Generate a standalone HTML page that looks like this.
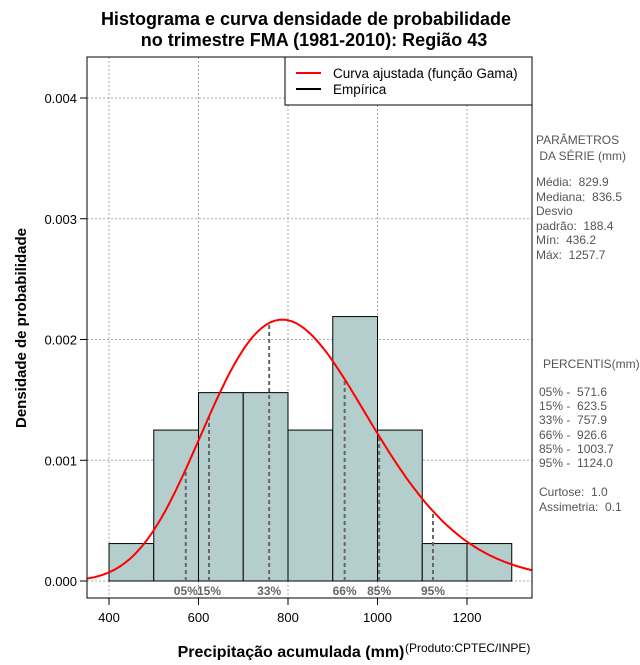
<!DOCTYPE html>
<html><head><meta charset="utf-8"><style>
body{margin:0;background:#fff;width:640px;height:660px;overflow:hidden}
svg{font-family:"Liberation Sans",sans-serif}
.pre text{white-space:pre}
</style></head><body>
<svg id="chart" width="640" height="660" xmlns="http://www.w3.org/2000/svg">
<text x="306" y="25" text-anchor="middle" font-size="18" font-weight="bold">Histograma e curva densidade de probabilidade</text>
<text x="314" y="46" text-anchor="middle" font-size="18" font-weight="bold">no trimestre FMA (1981-2010): Região 43</text>
<g id="grid"></g>
<g id="bars"></g>
<g id="pct"></g>
<g id="curve"></g>
<rect x="87" y="57" width="445" height="541" fill="none" stroke="#000"/>
<g id="axes" font-size="13"></g>
<text x="291" y="657" text-anchor="middle" font-size="16" font-weight="bold">Precipitação acumulada (mm)</text>
<text x="405" y="652" font-size="12">(Produto:CPTEC/INPE)</text>
<text transform="translate(26,328) rotate(-90)" text-anchor="middle" font-size="15" font-weight="bold">Densidade de probabilidade</text>
<g>
<rect x="285" y="57" width="247" height="48" fill="#fff" stroke="#000"/>
<line x1="296" y1="73" x2="321" y2="73" stroke="#f00" stroke-width="2"/>
<text x="333" y="78" font-size="13.5">Curva ajustada (função Gama)</text>
<line x1="296" y1="89" x2="321" y2="89" stroke="#000" stroke-width="2"/>
<text x="333" y="94" font-size="13.5">Empírica</text>
</g>
<g class="pre" font-size="12" fill="#555">
<text x="536" y="144">PARÂMETROS</text><text x="536" y="160"> DA SÉRIE (mm)</text>
<text x="536" y="186">Média:  829.9</text><text x="536" y="201">Mediana:  836.5</text>
<text x="536" y="215">Desvio</text><text x="536" y="230">padrão:  188.4</text>
<text x="536" y="244">Mín:  436.2</text><text x="536" y="259">Máx:  1257.7</text>
</g>
<g class="pre" font-size="12" fill="#555">
<text x="543" y="368">PERCENTIS(mm)</text>
<text x="539" y="396">05% -  571.6</text><text x="539" y="410">15% -  623.5</text>
<text x="539" y="424">33% -  757.9</text><text x="539" y="439">66% -  926.6</text>
<text x="539" y="453">85% -  1003.7</text><text x="539" y="467">95% -  1124.0</text>
<text x="539" y="496">Curtose:  1.0</text><text x="539" y="511">Assimetria:  0.1</text>
</g>
</svg>
<script>
const binStarts=[400,500,600,700,800,900,1000,1100,1200];
const binDensity=[0.00031,0.00125,0.00156,0.00156,0.00125,0.00219,0.00125,0.00031,0.00031];
const binWidth=100;
const xTicks=[400,600,800,1000,1200];
const yTicks=[0,0.001,0.002,0.003,0.004];
const yTickLabels=["0.000","0.001","0.002","0.003","0.004"];
const pctLabels=["05%","15%","33%","66%","85%","95%"];
const pctValues=[571.6,623.5,757.9,926.6,1003.7,1124.0];
const gammaMean=829.9;
const gammaSd=188.4;
const X=v=>109+(v-400)*0.4475;
const Y=v=>581-v*120750;
const NS="http://www.w3.org/2000/svg";
function mk(tag,attrs,parent){const e=document.createElementNS(NS,tag);for(const k in attrs)e.setAttribute(k,attrs[k]);parent.appendChild(e);return e;}
function lgamma(z){const c=[76.18009172947146,-86.50532032941677,24.01409824083091,-1.231739572450155,0.1208650973866179e-2,-0.5395239384953e-5];let x=z,y=z,t=x+5.5;t-=(x+0.5)*Math.log(t);let s=1.000000000190015;for(const ci of c)s+=ci/++y;return -t+Math.log(2.5066282746310005*s/x);}
const k=(gammaMean/gammaSd)**2, th=gammaSd*gammaSd/gammaMean;
const dens=x=>Math.exp((k-1)*Math.log(x)-x/th-lgamma(k)-k*Math.log(th));
const grid=document.getElementById('grid'),axes=document.getElementById('axes');
xTicks.forEach(t=>{const l=mk('line',{x1:X(t),x2:X(t),y1:57,y2:598,stroke:'#aaa','stroke-dasharray':'2,2'},grid);
const tk=mk('line',{x1:X(t),x2:X(t),y1:598,y2:605,stroke:'#000'},axes);
const tx=mk('text',{x:X(t),y:622,'text-anchor':'middle'},axes);tx.textContent=t;});
yTicks.forEach((t,i)=>{const l=mk('line',{x1:87,x2:532,y1:Y(t),y2:Y(t),stroke:'#aaa','stroke-dasharray':'2,2'},grid);
const tk=mk('line',{x1:80,x2:87,y1:Y(t),y2:Y(t),stroke:'#000'},axes);
const tx=mk('text',{x:77,y:Y(t)+5,'text-anchor':'end'},axes);tx.textContent=yTickLabels[i];});
const bars=document.getElementById('bars');
binStarts.forEach((s,i)=>{const r=mk('rect',{x:X(s),y:Y(binDensity[i]),width:X(s+binWidth)-X(s),height:Y(0)-Y(binDensity[i]),fill:'#b4cece',stroke:'#000','stroke-width':1},bars);});
const pg=document.getElementById('pct');
pctValues.forEach((v,i)=>{const l=mk('line',{x1:X(v),x2:X(v),y1:Y(0),y2:Y(dens(v)),stroke:'#666','stroke-width':2,'stroke-dasharray':'4,3'},pg);
const t=mk('text',{x:X(v),y:595,'text-anchor':'middle','font-size':12,'font-weight':'bold',fill:'#666'},pg);t.textContent=pctLabels[i];});
let d='';for(let x=350;x<=1346;x+=4){d+=(x===350?'M':'L')+X(x).toFixed(1)+','+Y(dens(x)).toFixed(1);}
const p=mk('path',{d:d,fill:'none',stroke:'#f00','stroke-width':2},document.getElementById('curve'));


</script>
</body></html>
